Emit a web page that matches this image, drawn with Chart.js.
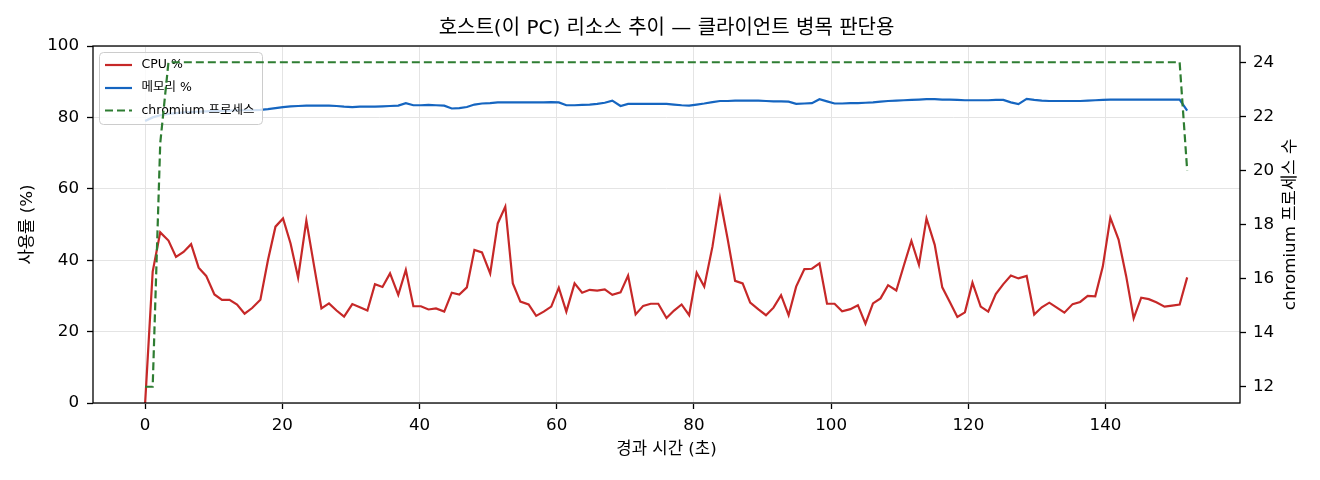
<!DOCTYPE html>
<html><head><meta charset="utf-8">
<script src="https://cdn.jsdelivr.net/npm/chart.js@4.4.1/dist/chart.umd.min.js"></script>
<style>html,body{margin:0;padding:0;background:#fff;overflow:hidden}#wrap{width:1320px;height:480px}</style>
</head><body><div id="wrap"><canvas id="c" width="1320" height="480"></canvas></div>
<script>
const timeSec = [
0.0,1.1,2.2,3.4,4.5,5.6,6.7,7.8,8.9,10.1,
11.2,12.3,13.4,14.5,15.6,16.8,17.9,19.0,20.1,21.2,
22.3,23.5,24.6,25.7,26.8,27.9,29.0,30.2,31.3,32.4,
33.5,34.6,35.7,36.9,38.0,39.1,40.2,41.3,42.4,43.6,
44.7,45.8,46.9,48.0,49.1,50.3,51.4,52.5,53.6,54.7,
55.9,57.0,58.1,59.2,60.3,61.4,62.6,63.7,64.8,65.9,
67.0,68.1,69.3,70.4,71.5,72.6,73.7,74.8,76.0,77.1,
78.2,79.3,80.4,81.5,82.7,83.8,84.9,86.0,87.1,88.2,
89.4,90.5,91.6,92.7,93.8,94.9,96.1,97.2,98.3,99.4,
100.5,101.6,102.8,103.9,105.0,106.1,107.2,108.3,109.5,110.6,
111.7,112.8,113.9,115.1,116.2,117.3,118.4,119.5,120.6,121.8,
122.9,124.0,125.1,126.2,127.3,128.5,129.6,130.7,131.8,132.9,
134.0,135.2,136.3,137.4,138.5,139.6,140.7,141.9,143.0,144.1,
145.2,146.3,147.4,148.6,149.7,150.8,151.9];
const cpuPct = [
0,36.8,47.8,45.5,40.9,42.3,44.5,37.9,35.6,30.4,
28.9,28.9,27.6,25.0,26.6,28.9,40.0,49.4,51.7,44.7,
35.1,51.1,38.7,26.5,27.9,25.9,24.2,27.7,26.8,25.9,
33.3,32.5,36.3,30.3,37.3,27.1,27.1,26.2,26.5,25.6,
30.9,30.4,32.4,42.9,42.2,36.3,50.3,55.0,33.5,28.4,
27.6,24.4,25.6,27.0,32.3,25.6,33.5,30.9,31.7,31.5,
31.8,30.3,31.0,35.7,24.8,27.2,27.8,27.8,23.8,25.9,
27.6,24.6,36.5,32.6,43.8,57.3,46.1,34.2,33.5,28.1,
26.2,24.6,26.7,30.2,24.6,32.6,37.5,37.6,39.1,27.8,
27.8,25.7,26.3,27.4,22.2,27.9,29.3,33.0,31.5,38.5,
45.4,38.7,51.7,44.3,32.4,28.3,24.1,25.4,33.7,27.0,
25.6,30.5,33.3,35.7,34.9,35.6,24.8,26.8,28.1,26.7,
25.3,27.7,28.3,30.0,29.9,38.2,51.9,45.8,35.6,23.7,
29.5,29.1,28.2,27.0,27.3,27.6,35.2];
const memPct = [
79.0,80.0,80.6,81.0,81.2,81.4,81.5,81.6,81.7,81.8,
81.8,81.9,82.0,82.0,82.0,82.1,82.3,82.6,82.9,83.1,
83.2,83.3,83.3,83.3,83.3,83.2,83.0,82.9,83.0,83.0,
83.0,83.1,83.2,83.3,84.0,83.4,83.4,83.5,83.4,83.3,
82.5,82.6,82.9,83.6,83.9,84.0,84.2,84.2,84.2,84.2,
84.2,84.2,84.2,84.3,84.2,83.4,83.4,83.5,83.6,83.8,
84.1,84.7,83.2,83.8,83.8,83.8,83.8,83.8,83.8,83.6,
83.4,83.3,83.6,83.9,84.3,84.6,84.6,84.7,84.7,84.7,
84.7,84.6,84.5,84.5,84.4,83.8,83.9,84.0,85.1,84.5,
83.9,83.9,84.0,84.0,84.1,84.2,84.4,84.6,84.7,84.8,
84.9,85.0,85.1,85.1,85.0,85.0,84.9,84.8,84.8,84.8,
84.8,84.9,84.9,84.2,83.7,85.2,84.9,84.7,84.6,84.6,
84.6,84.6,84.6,84.7,84.8,84.9,85.0,85.0,85.0,85.0,
85.0,85.0,85.0,85.0,85.0,85.0,81.9];
const chromiumCount = [
12,12,21,24,24,24,24,24,24,24,
24,24,24,24,24,24,24,24,24,24,
24,24,24,24,24,24,24,24,24,24,
24,24,24,24,24,24,24,24,24,24,
24,24,24,24,24,24,24,24,24,24,
24,24,24,24,24,24,24,24,24,24,
24,24,24,24,24,24,24,24,24,24,
24,24,24,24,24,24,24,24,24,24,
24,24,24,24,24,24,24,24,24,24,
24,24,24,24,24,24,24,24,24,24,
24,24,24,24,24,24,24,24,24,24,
24,24,24,24,24,24,24,24,24,24,
24,24,24,24,24,24,24,24,24,24,
24,24,24,24,24,24,20];
const xTicks = [0,20,40,60,80,100,120,140];
const yLeftTicks = [0,20,40,60,80,100];
const yRightTicks = [12,14,16,18,20,22,24];
const seriesLabels = ['CPU %','메모리 %','chromium 프로세스'];
const titleText = '호스트(이 PC) 리소스 추이 — 클라이언트 병목 판단용';
const xLabel = '경과 시간 (초)';
const yLeftLabel = '사용률 (%)';
const yRightLabel = 'chromium 프로세스 수';

const FONT = "'DejaVu Sans', 'Noto Sans CJK KR', sans-serif";
const C_CPU = '#c62828', C_MEM = '#1565c0', C_CHR = '#2e7d32';
const GRID = '#e4e4e4';
const pts = arr => timeSec.map((t, i) => ({x: t, y: arr[i]}));

function drawLegend(chart) {
  const ctx = chart.ctx;
  ctx.save();
  const lx = 99.5, ly = 52.5, lw = 163, lh = 72, r = 4;
  ctx.beginPath();
  ctx.moveTo(lx + r, ly); ctx.lineTo(lx + lw - r, ly); ctx.quadraticCurveTo(lx + lw, ly, lx + lw, ly + r);
  ctx.lineTo(lx + lw, ly + lh - r); ctx.quadraticCurveTo(lx + lw, ly + lh, lx + lw - r, ly + lh);
  ctx.lineTo(lx + r, ly + lh); ctx.quadraticCurveTo(lx, ly + lh, lx, ly + lh - r);
  ctx.lineTo(lx, ly + r); ctx.quadraticCurveTo(lx, ly, lx + r, ly); ctx.closePath();
  ctx.fillStyle = 'rgba(255,255,255,0.8)'; ctx.fill();
  ctx.strokeStyle = '#cccccc'; ctx.lineWidth = 1; ctx.stroke();
  const ds = chart.data.datasets;
  const rows = [65, 88, 110.5];
  ctx.font = '12.5px ' + FONT; ctx.textAlign = 'left'; ctx.textBaseline = 'middle';
  ds.forEach((d, i) => {
    ctx.beginPath();
    ctx.setLineDash(d.borderDash || []);
    ctx.strokeStyle = d.borderColor; ctx.lineWidth = d.borderWidth;
    ctx.moveTo(105, rows[i]); ctx.lineTo(132, rows[i]); ctx.stroke();
    ctx.setLineDash([]);
    ctx.fillStyle = '#000';
    ctx.fillText(d.label, 141.5, rows[i]);
  });
  ctx.restore();
}

const decor = {
  id: 'decor',
  afterDatasetDraw(chart, args) {
    // legend belongs to the left axis: drawn after its lines, below the right-axis line
    if (args.index === 1) drawLegend(chart);
  },
  afterDraw(chart) {
    const ctx = chart.ctx, a = chart.chartArea;
    ctx.save();
    ctx.strokeStyle = '#000'; ctx.lineWidth = 1.3;
    ctx.strokeRect(a.left, a.top, a.right - a.left, a.bottom - a.top);
    ctx.fillStyle = '#000';
    ctx.textAlign = 'center'; ctx.textBaseline = 'middle';
    ctx.font = '20px ' + FONT;
    ctx.fillText(titleText, (a.left + a.right) / 2, 29);
    ctx.font = '16.7px ' + FONT;
    ctx.fillText(xLabel, (a.left + a.right) / 2, 450);
    const cy = (a.top + a.bottom) / 2;
    ctx.save(); ctx.translate(28, cy); ctx.rotate(-Math.PI / 2); ctx.fillText(yLeftLabel, 0, 0); ctx.restore();
    ctx.save(); ctx.translate(1291, cy); ctx.rotate(-Math.PI / 2); ctx.fillText(yRightLabel, 0, 0); ctx.restore();
    ctx.restore();
  }
};

const tickFont = {family: FONT, size: 16.7};
new Chart(document.getElementById('c'), {
  type: 'line',
  data: {
    datasets: [
      {label: seriesLabels[0], data: pts(cpuPct), yAxisID: 'y', borderColor: C_CPU, borderWidth: 2.2, pointRadius: 0, tension: 0, fill: false, order: 2},
      {label: seriesLabels[1], data: pts(memPct), yAxisID: 'y', borderColor: C_MEM, borderWidth: 2.2, pointRadius: 0, tension: 0, fill: false, order: 1},
      {label: seriesLabels[2], data: pts(chromiumCount), yAxisID: 'y2', borderColor: C_CHR, borderWidth: 2.2, borderDash: [8, 4], pointRadius: 0, tension: 0, fill: false, order: 0}
    ]
  },
  options: {
    responsive: false, animation: false, devicePixelRatio: 1,
    layout: {padding: {top: 46, left: 0, right: 0, bottom: 0}},
    plugins: {legend: {display: false}, title: {display: false}, tooltip: {enabled: false}},
    scales: {
      x: {
        type: 'linear', min: -7.6, max: 159.6,
        afterBuildTicks: s => { s.ticks = xTicks.map(v => ({value: v})); },
        afterFit: s => { s.height = 77; },
        grid: {color: GRID, lineWidth: 1, tickColor: '#000', tickLength: 6, tickWidth: 1.3},
        border: {display: false},
        ticks: {font: tickFont, color: '#000', padding: 7, maxRotation: 0, autoSkip: false}
      },
      y: {
        position: 'left', min: 0, max: 100,
        afterBuildTicks: s => { s.ticks = yLeftTicks.map(v => ({value: v})); },
        afterFit: s => { s.width = 93; },
        grid: {color: GRID, lineWidth: 1, tickColor: '#000', tickLength: 6, tickWidth: 1.3},
        border: {display: false},
        ticks: {font: tickFont, color: '#000', padding: 8, autoSkip: false}
      },
      y2: {
        position: 'right', min: 11.4, max: 24.6,
        afterBuildTicks: s => { s.ticks = yRightTicks.map(v => ({value: v})); },
        afterFit: s => { s.width = 80; },
        grid: {drawOnChartArea: false, tickColor: '#000', tickLength: 6, tickWidth: 1.3},
        border: {display: false},
        ticks: {font: tickFont, color: '#000', padding: 7, autoSkip: false}
      }
    }
  },
  plugins: [decor]
});
</script></body></html>
